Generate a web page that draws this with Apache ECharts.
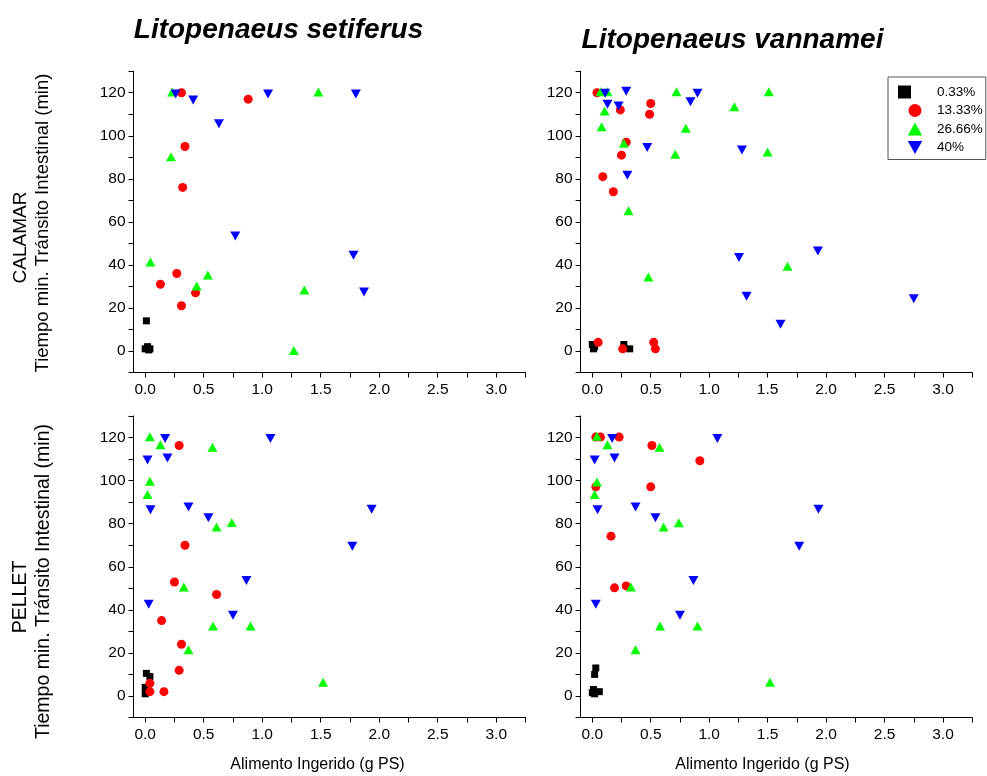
<!DOCTYPE html>
<html>
<head>
<meta charset="utf-8">
<script src="https://cdn.jsdelivr.net/npm/echarts@6/dist/echarts.min.js"></script>
<style>
  html, body { margin: 0; padding: 0; background: #ffffff; }
  #chart { width: 987px; height: 776px; }
</style>
</head>
<body>
<div id="chart"></div>
<script>
// Dietary level groups (series names)
const groups = ['0.33%', '13.33%', '26.66%', '40%'];

// Axis ticks and labels
const xTickValues = [0, 0.25, 0.5, 0.75, 1, 1.25, 1.5, 1.75, 2, 2.25, 2.5, 2.75, 3, 3.25];
const xLabelValues = [0, 0.5, 1, 1.5, 2, 2.5, 3];
const yTickValues = [-10, 0, 10, 20, 30, 40, 50, 60, 70, 80, 90, 100, 110, 120, 130];
const yLabelValues = [0, 20, 40, 60, 80, 100, 120];

// CALAMAR - Litopenaeus setiferus  [alimento ingerido, tiempo]
const calSet033 = [[0.01, 14], [0.0, 1], [0.02, 2], [0.03, 0.5], [0.04, 1]];
const calSet1333 = [[0.31, 120], [0.88, 117], [0.34, 95], [0.32, 76], [0.27, 36], [0.13, 31], [0.43, 27], [0.31, 21]];
const calSet2666 = [[0.23, 120.3], [1.48, 120.3], [0.22, 90.3], [0.045, 41.4], [0.535, 35.3], [0.44, 30.2], [1.36, 28.3], [1.27, 0.2]];
const calSet40 = [[0.26, 119.4], [0.41, 116.6], [1.05, 119.4], [1.8, 119.4], [0.63, 105.6], [0.77, 53.4], [1.78, 44.5], [1.87, 27.4]];

// CALAMAR - Litopenaeus vannamei
const calVan033 = [[0.0, 3], [0.01, 1], [0.02, 2], [0.27, 3], [0.32, 1]];
const calVan1333 = [[0.04, 120], [0.24, 112], [0.5, 115], [0.49, 110], [0.29, 97], [0.25, 91], [0.09, 81], [0.18, 74], [0.05, 4], [0.525, 4], [0.26, 1], [0.54, 1]];
const calVan2666 = [[0.07, 120.4], [0.13, 120.4], [0.72, 120.4], [1.51, 120.4], [1.215, 113.5], [0.105, 111.5], [0.08, 104.2], [0.8, 103.5], [0.27, 96.5], [0.71, 91.4], [1.5, 92.5], [0.31, 65.2], [0.48, 34.4], [1.67, 39.4]];
const calVan40 = [[0.11, 119.7], [0.29, 120.7], [0.9, 119.7], [0.13, 114.6], [0.225, 113.8], [0.84, 115.8], [0.47, 94.6], [1.28, 93.4], [0.3, 81.6], [1.93, 46.5], [1.255, 43.4], [1.32, 25.4], [1.61, 12.4], [2.75, 24.3]];

// PELLET - Litopenaeus setiferus
const pelSet033 = [[0.01, 10.5], [0.04, 9], [0.0, 4], [0.0, 1], [0.02, 2]];
const pelSet1333 = [[0.29, 116.3], [0.34, 70], [0.25, 52.9], [0.61, 47.1], [0.14, 35], [0.31, 24], [0.29, 11.9], [0.04, 5.9], [0.04, 2], [0.16, 2]];
const pelSet2666 = [[0.04, 120.4], [0.13, 116.7], [0.575, 115.5], [0.04, 99.7], [0.02, 93.5], [0.74, 80.5], [0.61, 78.5], [0.33, 50.6], [0.58, 32.5], [0.9, 32.5], [0.37, 21.5], [1.52, 6.4]];
const pelSet40 = [[0.17, 119.5], [1.07, 119.5], [0.19, 110.5], [0.02, 109.6], [0.045, 86.5], [0.37, 87.8], [0.54, 82.7], [1.935, 86.7], [1.77, 69.5], [0.865, 53.6], [0.03, 42.6], [0.75, 37.5]];

// PELLET - Litopenaeus vannamei
const pelVan033 = [[0.03, 13], [0.02, 10], [0.01, 3], [0.06, 2], [0.0, 1.5], [0.02, 1]];
const pelVan1333 = [[0.03, 120.2], [0.07, 120.2], [0.23, 120.2], [0.51, 116.3], [0.92, 109.2], [0.03, 97.1], [0.5, 97.1], [0.16, 74.2], [0.19, 50.2], [0.29, 51.1]];
const pelVan2666 = [[0.04, 120.6], [0.13, 116.7], [0.575, 115.5], [0.04, 99.4], [0.02, 93.5], [0.74, 80.4], [0.61, 78.5], [0.33, 50.6], [0.58, 32.5], [0.9, 32.5], [0.37, 21.5], [1.52, 6.4]];
const pelVan40 = [[0.17, 119.5], [1.07, 119.5], [0.19, 110.5], [0.02, 109.6], [0.045, 86.5], [0.37, 87.8], [0.54, 82.7], [1.935, 86.7], [1.77, 69.5], [0.865, 53.6], [0.03, 42.6], [0.75, 37.5]];

const panels = [
  [calSet033, calSet1333, calSet2666, calSet40],
  [calVan033, calVan1333, calVan2666, calVan40],
  [pelSet033, pelSet1333, pelSet2666, pelSet40],
  [pelVan033, pelVan1333, pelVan2666, pelVan40]
];

const FONT = 'Liberation Sans, Arial, Helvetica, sans-serif';
const colors = ['#000000', '#ff0000', '#00ff00', '#0000ff'];
const symbols = ['square', 'circle', 'path://M5,0 L10,9 L0,9 Z', 'path://M0,0 L10,0 L5,9 Z'];
const sizes = [7, 9, [10, 9], [10, 9]];

const grids = [
  { left: 133.5, top: 71.2, width: 392, height: 301.3 },
  { left: 580.6, top: 71.2, width: 391.6, height: 301.3 },
  { left: 133.5, top: 416, width: 392, height: 301.5 },
  { left: 580.6, top: 416, width: 391.6, height: 301.5 }
].map(g => Object.assign({ outerBoundsMode: 'none', containLabel: false }, g));

const axisLine = { show: true, onZero: false, lineStyle: { color: '#000', width: 1 } };

const xAxes = grids.map((g, i) => ({
  type: 'value', gridIndex: i, min: -0.1, max: 3.25,
  axisLine: axisLine,
  axisTick: { show: true, inside: false, length: 5, customValues: xTickValues, lineStyle: { color: '#000', width: 1 } },
  axisLabel: { customValues: xLabelValues, formatter: v => v.toFixed(1), fontSize: 15.5, color: '#000', fontFamily: FONT, margin: 9 },
  splitLine: { show: false }
}));

const yAxes = grids.map((g, i) => ({
  type: 'value', gridIndex: i, min: -10, max: 130,
  axisLine: axisLine,
  axisTick: { show: true, inside: false, length: 5, customValues: yTickValues, lineStyle: { color: '#000', width: 1 } },
  axisLabel: { customValues: yLabelValues, formatter: v => String(Math.round(v)), fontSize: 15.5, color: '#000', fontFamily: FONT, margin: 8 },
  splitLine: { show: false }
}));

const series = [];
panels.forEach((sets, p) => {
  sets.forEach((data, k) => {
    series.push({
      type: 'scatter', name: groups[k], xAxisIndex: p, yAxisIndex: p,
      data: data, symbol: symbols[k], symbolSize: sizes[k],
      itemStyle: { color: colors[k], opacity: 1, borderWidth: 0 },
      emphasis: { disabled: true }, silent: true, z: 2 + k
    });
  });
});

function txt(text, x, y, size, rotated, style) {
  return {
    type: 'text', x: x, y: y, rotation: rotated ? Math.PI / 2 : 0,
    style: Object.assign({
      text: text, fill: '#000', fontSize: size, fontFamily: FONT,
      align: 'center', verticalAlign: 'middle'
    }, style || {})
  };
}
const speciesStyle = { fontStyle: 'italic', fontWeight: 'bold' };

const option = {
  animation: false,
  backgroundColor: '#ffffff',
  grid: grids,
  xAxis: xAxes,
  yAxis: yAxes,
  series: series,
  legend: {
    show: true, orient: 'vertical', left: 888, top: 77,
    itemWidth: 34, itemHeight: 13, itemGap: 4.5,
    padding: [8, 3, 5, 10],
    borderColor: '#555', borderWidth: 1, backgroundColor: '#fff',
    selectedMode: false, symbolKeepAspect: true,
    textStyle: { fontSize: 13.5, color: '#000', fontFamily: FONT },
    data: groups
  },
  graphic: [
    txt('Litopenaeus setiferus', 278.5, 30, 28, false, speciesStyle),
    txt('Litopenaeus vannamei', 732.5, 40, 28, false, speciesStyle),
    txt('CALAMAR', 20.5, 237.5, 19, true),
    txt('Tiempo min. Tránsito Intestinal (min)', 43, 223, 18.5, true),
    txt('PELLET', 20.5, 597, 19.5, true),
    txt('Tiempo min. Tránsito Intestinal (min)', 44, 581.5, 19.5, true),
    txt('Alimento Ingerido (g PS)', 317.5, 765, 16, false),
    txt('Alimento Ingerido (g PS)', 762.5, 765, 16, false)
  ]
};

const chart = echarts.init(document.getElementById('chart'), null, { renderer: 'canvas' });
chart.setOption(option);
</script>
</body>
</html>
